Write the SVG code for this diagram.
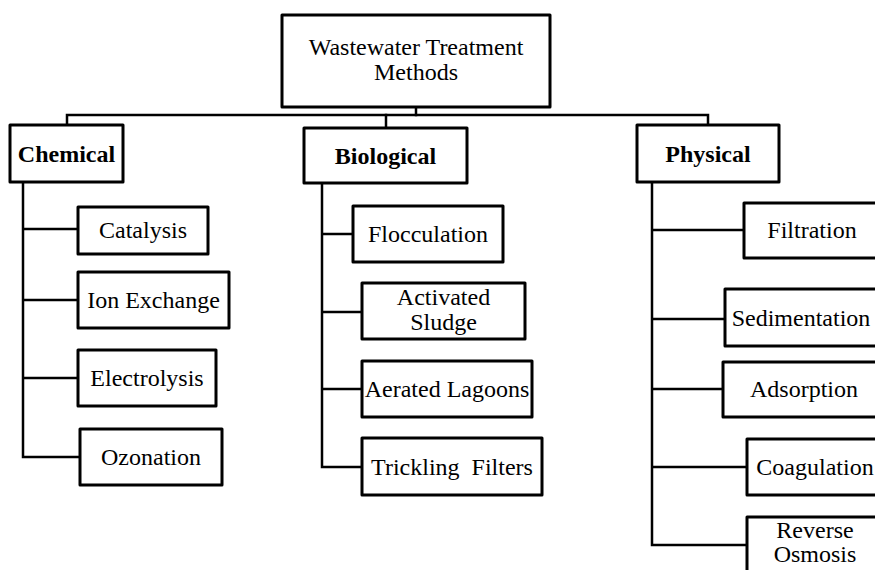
<svg xmlns="http://www.w3.org/2000/svg" width="875" height="570" viewBox="0 0 875 570">
<style>
.box{fill:#fff;stroke:#000;stroke-width:3;stroke-linejoin:round}
.t{font-family:"Liberation Serif","Times New Roman",serif;font-size:24px;fill:#000;text-anchor:middle}
.b{font-weight:bold}
.c{fill:none;stroke:#000;stroke-width:2.5;stroke-linejoin:miter;stroke-linecap:square}
</style>
<rect width="875" height="570" fill="#fff"/>
<g id="connectors">
<path class="c" d="M67 125V115H708V125"/>
<path class="c" d="M416 107V115" stroke-width="3.5"/>
<path class="c" d="M386 115V128"/>
<path class="c" d="M23 182V457H80M23 229H78M23 300H78M23 378H78" stroke-width="3"/>
<path class="c" d="M322 183V467H362M322 234H353M322 312H362M322 389H362" stroke-width="3"/>
<path class="c" d="M652 182V545H747M652 230H744M652 319H725M652 389H723M652 467H747" stroke-width="3"/>
</g>
<g id="root"><rect class="box" x="282" y="15" width="268" height="92"/><text class="t" x="416" y="55">Wastewater Treatment</text><text class="t" x="416" y="80">Methods</text></g>
<g id="chemical"><rect class="box" x="10" y="125" width="113" height="57"/><text class="t b" x="66.5" y="162">Chemical</text></g>
<g id="biological"><rect class="box" x="304" y="128" width="163" height="55"/><text class="t b" x="385.5" y="164">Biological</text></g>
<g id="physical"><rect class="box" x="637" y="125" width="142" height="57"/><text class="t b" x="708" y="162">Physical</text></g>
<g id="catalysis"><rect class="box" x="78" y="207" width="130" height="47"/><text class="t" x="143" y="238">Catalysis</text></g>
<g id="ion-exchange"><rect class="box" x="78" y="272" width="151" height="56"/><text class="t" x="153.5" y="308">Ion Exchange</text></g>
<g id="electrolysis"><rect class="box" x="78" y="350" width="138" height="56"/><text class="t" x="147" y="386">Electrolysis</text></g>
<g id="ozonation"><rect class="box" x="80" y="429" width="142" height="56"/><text class="t" x="151" y="465">Ozonation</text></g>
<g id="flocculation"><rect class="box" x="353" y="206" width="150" height="56"/><text class="t" x="428" y="242">Flocculation</text></g>
<g id="activated-sludge"><rect class="box" x="362" y="283" width="163" height="56"/><text class="t" x="443.5" y="305">Activated</text><text class="t" x="443.5" y="330">Sludge</text></g>
<g id="aerated-lagoons"><rect class="box" x="362" y="361" width="170" height="56"/><text class="t" x="447" y="397">Aerated Lagoons</text></g>
<g id="trickling-filters"><rect class="box" x="362" y="438" width="180" height="57"/><text class="t" x="452" y="475" xml:space="preserve">Trickling  Filters</text></g>
<g id="filtration"><rect class="box" x="744" y="203" width="140" height="55"/><text class="t" x="812" y="238">Filtration</text></g>
<g id="sedimentation"><rect class="box" x="725" y="289" width="160" height="57"/><text class="t" x="801" y="326">Sedimentation</text></g>
<g id="adsorption"><rect class="box" x="723" y="362" width="162" height="55"/><text class="t" x="804" y="397">Adsorption</text></g>
<g id="coagulation"><rect class="box" x="747" y="439" width="138" height="56"/><text class="t" x="815" y="475">Coagulation</text></g>
<g id="reverse-osmosis"><rect class="box" x="747" y="517" width="138" height="70"/><text class="t" x="815" y="538">Reverse</text><text class="t" x="815" y="562">Osmosis</text></g>
</svg>
